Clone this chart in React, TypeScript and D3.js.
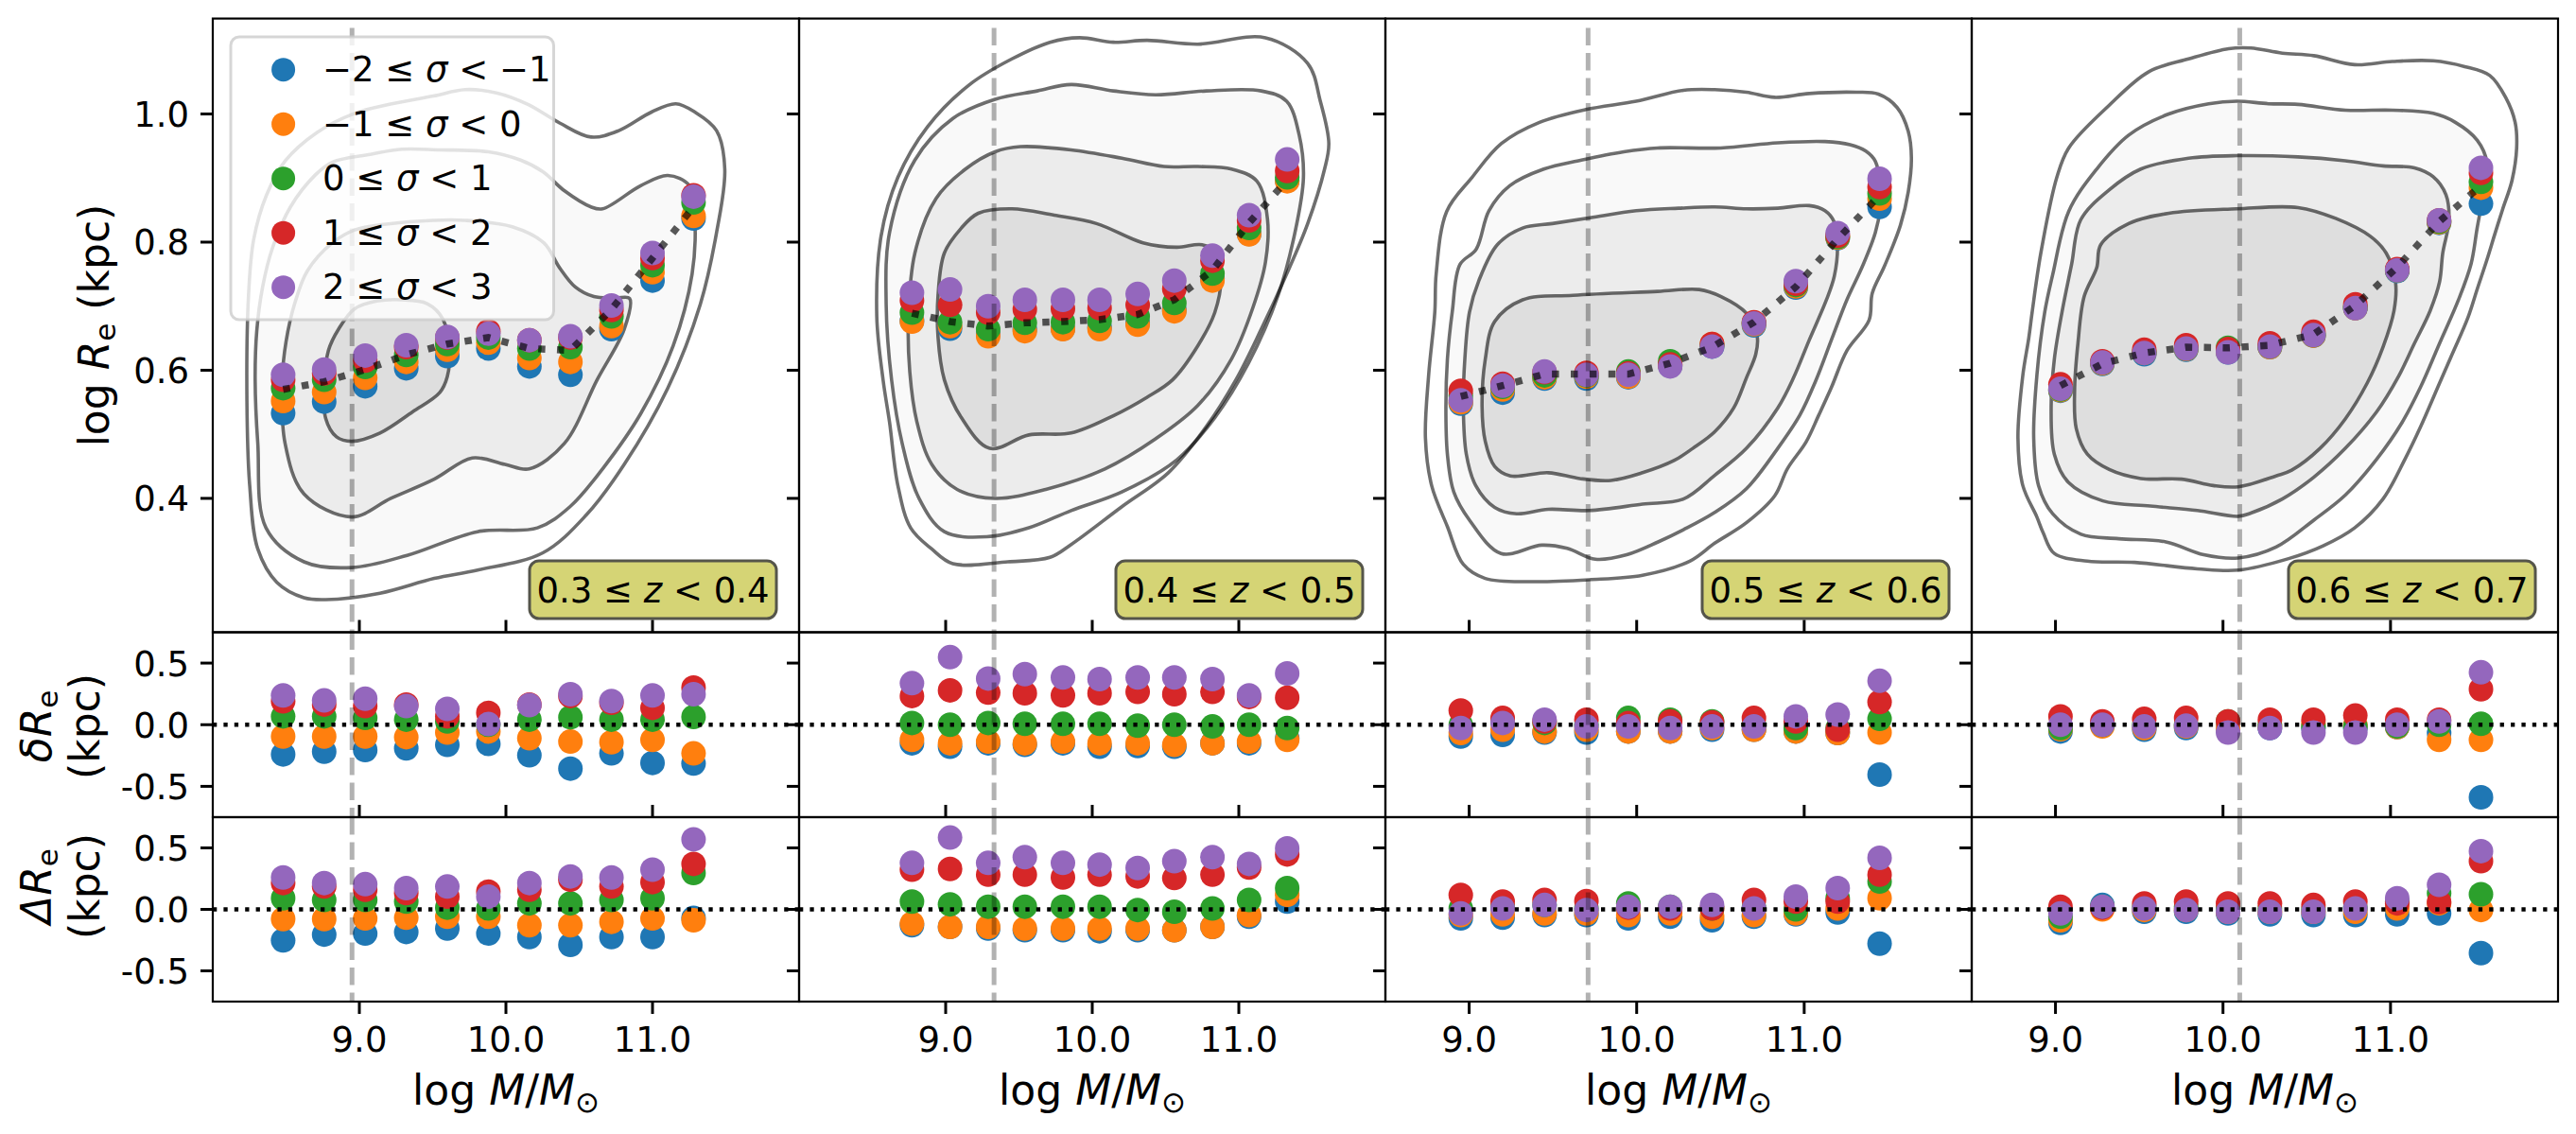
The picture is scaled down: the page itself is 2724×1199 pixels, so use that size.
import React from "react";
import * as d3 from "d3";

type Pt = [number, number];

const W = 2724;
const H = 1199;
const FONT = "'DejaVu Sans', 'Liberation Sans', sans-serif";

// ---------- categories / labels ----------
const SERIES_COLORS = ["#1f77b4", "#ff7f0e", "#2ca02c", "#d62728", "#9467bd"];
const SIGMA_BINS: [string, string][] = [["−2", "−1"], ["−1", "0"], ["0", "1"], ["1", "2"], ["2", "3"]];
const Z_BINS: [string, string][] = [["0.3", "0.4"], ["0.4", "0.5"], ["0.5", "0.6"], ["0.6", "0.7"]];
const MASS_CUT = [8.95, 9.33, 9.71, 10.1];
const X_DOMAINS: [number, number][] = [[8, 12], [8, 12], [8.5, 12], [8.5, 12]];
const X_TICKS = [9, 10, 11];
const Y_TICKS_SIZE = [0.4, 0.6, 0.8, 1.0];
const Y_TICKS_RES = [-0.5, 0, 0.5];
const Y_DOMAIN_SIZE: [number, number] = [0.191, 1.149];
const Y_DOMAIN_RES: [number, number] = [-0.75, 0.75];

// ---------- mass bin centres ----------
const mass_z03 = [8.48, 8.76, 9.04, 9.32, 9.6, 9.88, 10.16, 10.44, 10.72, 11.0, 11.28];
const mass_z04 = [8.77, 9.03, 9.29, 9.54, 9.8, 10.05, 10.31, 10.56, 10.82, 11.07, 11.33];
const mass_z05 = [8.95, 9.2, 9.45, 9.7, 9.95, 10.2, 10.45, 10.7, 10.95, 11.2, 11.45];
const mass_z06 = [9.03, 9.28, 9.53, 9.78, 10.03, 10.28, 10.54, 10.79, 11.04, 11.29, 11.54];

// ---------- log Re per sigma bin (blue, orange, green, red, purple) ----------
const re_z03 = [
  [0.533, 0.551, 0.575, 0.603, 0.622, 0.634, 0.606, 0.593, 0.664, 0.74, 0.837],
  [0.552, 0.566, 0.588, 0.613, 0.632, 0.643, 0.619, 0.613, 0.669, 0.753, 0.841],
  [0.572, 0.585, 0.605, 0.624, 0.641, 0.651, 0.634, 0.636, 0.684, 0.764, 0.862],
  [0.585, 0.595, 0.615, 0.636, 0.651, 0.661, 0.647, 0.651, 0.694, 0.775, 0.873],
  [0.593, 0.601, 0.623, 0.639, 0.652, 0.657, 0.647, 0.653, 0.701, 0.783, 0.871],
];
const re_z04 = [
  [0.677, 0.665, 0.657, 0.664, 0.665, 0.667, 0.674, 0.694, 0.743, 0.813, 0.896],
  [0.676, 0.669, 0.653, 0.661, 0.664, 0.664, 0.671, 0.692, 0.74, 0.812, 0.895],
  [0.69, 0.675, 0.664, 0.674, 0.675, 0.677, 0.684, 0.705, 0.751, 0.822, 0.901],
  [0.709, 0.702, 0.69, 0.695, 0.696, 0.697, 0.702, 0.727, 0.771, 0.834, 0.911],
  [0.721, 0.726, 0.7, 0.71, 0.71, 0.71, 0.719, 0.74, 0.779, 0.842, 0.929],
];
const re_z05 = [
  [0.548, 0.565, 0.587, 0.587, 0.589, 0.607, 0.637, 0.67, 0.729, 0.806, 0.855],
  [0.55, 0.57, 0.589, 0.59, 0.59, 0.608, 0.641, 0.672, 0.731, 0.807, 0.868],
  [0.56, 0.574, 0.592, 0.592, 0.598, 0.614, 0.639, 0.674, 0.733, 0.808, 0.876],
  [0.568, 0.579, 0.597, 0.596, 0.595, 0.609, 0.641, 0.675, 0.735, 0.81, 0.886],
  [0.553, 0.576, 0.598, 0.593, 0.593, 0.606, 0.637, 0.673, 0.739, 0.814, 0.899],
];
const re_z06 = [
  [0.568, 0.61, 0.625, 0.632, 0.628, 0.636, 0.654, 0.697, 0.755, 0.83, 0.86],
  [0.569, 0.611, 0.627, 0.633, 0.629, 0.636, 0.654, 0.697, 0.756, 0.831, 0.885],
  [0.57, 0.612, 0.628, 0.634, 0.635, 0.637, 0.655, 0.698, 0.756, 0.832, 0.894],
  [0.578, 0.614, 0.632, 0.639, 0.633, 0.642, 0.66, 0.703, 0.758, 0.834, 0.908],
  [0.571, 0.612, 0.627, 0.634, 0.628, 0.637, 0.655, 0.697, 0.756, 0.834, 0.916],
];

// ---------- overall median relation ----------
const med_z03 = [0.57, 0.582, 0.601, 0.624, 0.641, 0.651, 0.634, 0.631, 0.695, 0.775, 0.855];
const med_z04 = [0.689, 0.676, 0.669, 0.674, 0.676, 0.679, 0.687, 0.71, 0.756, 0.83, 0.897];
const med_z05 = [0.559, 0.576, 0.594, 0.594, 0.594, 0.611, 0.636, 0.675, 0.73, 0.805, 0.873];
const med_z06 = [0.576, 0.61, 0.627, 0.636, 0.635, 0.639, 0.656, 0.701, 0.761, 0.832, 0.888];

// ---------- delta Re ----------
const dre_z03 = [
  [-0.241, -0.219, -0.205, -0.192, -0.164, -0.156, -0.247, -0.356, -0.233, -0.31, -0.315],
  [-0.096, -0.096, -0.096, -0.101, -0.063, -0.055, -0.11, -0.137, -0.142, -0.123, -0.233],
  [0.068, 0.068, 0.055, 0.041, 0.027, 0.0, 0.041, 0.06, 0.041, 0.041, 0.063],
  [0.19, 0.164, 0.151, 0.164, 0.068, 0.096, 0.164, 0.233, 0.178, 0.137, 0.301],
  [0.238, 0.197, 0.211, 0.151, 0.129, 0.005, 0.159, 0.247, 0.192, 0.238, 0.247],
];
const dre_z04 = [
  [-0.151, -0.178, -0.151, -0.164, -0.151, -0.178, -0.173, -0.178, -0.151, -0.151, -0.11],
  [-0.123, -0.151, -0.137, -0.151, -0.137, -0.151, -0.151, -0.164, -0.151, -0.137, -0.123],
  [0.014, 0.0, 0.014, 0.008, 0.008, 0.008, -0.008, 0.0, -0.014, 0.0, -0.027],
  [0.233, 0.279, 0.26, 0.255, 0.238, 0.255, 0.266, 0.247, 0.266, 0.225, 0.219],
  [0.337, 0.548, 0.375, 0.411, 0.384, 0.37, 0.384, 0.384, 0.37, 0.238, 0.416],
];
const dre_z05 = [
  [-0.096, -0.082, -0.063, -0.063, -0.055, -0.055, -0.041, -0.041, -0.055, -0.068, -0.405],
  [-0.068, -0.041, -0.055, -0.041, -0.055, -0.055, -0.027, -0.041, -0.055, -0.068, -0.063],
  [0.0, 0.027, 0.014, 0.0, 0.055, 0.041, 0.027, 0.0, -0.027, -0.027, 0.047],
  [0.115, 0.055, 0.027, 0.041, 0.014, 0.027, 0.019, 0.055, 0.027, -0.041, 0.184],
  [-0.027, 0.014, 0.041, -0.014, -0.014, -0.027, -0.014, -0.014, 0.068, 0.082, 0.356],
];
const dre_z06 = [
  [-0.055, 0.014, -0.041, -0.027, -0.041, -0.027, -0.027, -0.027, -0.019, -0.068, -0.589],
  [-0.036, -0.014, -0.027, -0.014, -0.027, -0.014, 0.008, 0.0, -0.019, -0.123, -0.123],
  [-0.027, 0.0, 0.0, 0.0, 0.027, 0.0, -0.014, -0.014, -0.014, 0.0, 0.008],
  [0.068, 0.027, 0.047, 0.055, 0.027, 0.041, 0.041, 0.074, 0.041, 0.041, 0.288],
  [0.0, 0.0, -0.014, -0.008, -0.063, -0.027, -0.063, -0.063, 0.0, 0.027, 0.425],
];

// ---------- Delta Re ----------
const bigdre_z03 = [
  [-0.252, -0.205, -0.197, -0.184, -0.156, -0.197, -0.225, -0.288, -0.225, -0.225, -0.07],
  [-0.079, -0.079, -0.074, -0.068, -0.06, -0.06, -0.129, -0.129, -0.101, -0.074, -0.088],
  [0.09, 0.077, 0.077, 0.063, 0.014, 0.008, 0.049, 0.049, 0.077, 0.09, 0.296],
  [0.214, 0.186, 0.159, 0.132, 0.104, 0.145, 0.159, 0.241, 0.186, 0.222, 0.37],
  [0.26, 0.214, 0.205, 0.173, 0.186, 0.104, 0.214, 0.268, 0.26, 0.323, 0.57],
];
const bigdre_z04 = [
  [-0.129, -0.142, -0.156, -0.17, -0.17, -0.178, -0.17, -0.17, -0.142, -0.06, 0.063],
  [-0.115, -0.142, -0.142, -0.156, -0.156, -0.156, -0.156, -0.17, -0.142, -0.047, 0.118],
  [0.063, 0.041, 0.022, 0.022, 0.022, 0.022, -0.005, -0.019, 0.008, 0.077, 0.173],
  [0.323, 0.329, 0.282, 0.282, 0.26, 0.282, 0.268, 0.255, 0.282, 0.34, 0.447],
  [0.378, 0.584, 0.378, 0.425, 0.378, 0.364, 0.337, 0.392, 0.425, 0.37, 0.496],
];
const bigdre_z05 = [
  [-0.074, -0.068, -0.047, -0.047, -0.074, -0.06, -0.088, -0.06, -0.041, -0.025, -0.279],
  [-0.047, -0.041, -0.033, -0.033, -0.047, -0.033, -0.06, -0.047, -0.033, 0.008, 0.09],
  [0.008, 0.022, 0.036, 0.008, 0.049, 0.022, 0.008, 0.014, 0.0, 0.09, 0.227],
  [0.118, 0.063, 0.077, 0.068, 0.014, 0.008, 0.008, 0.077, 0.063, 0.063, 0.282],
  [-0.033, 0.008, 0.036, -0.005, 0.022, 0.022, 0.036, 0.008, 0.104, 0.173, 0.419],
];
const bigdre_z06 = [
  [-0.11, 0.036, -0.019, -0.019, -0.033, -0.041, -0.047, -0.047, -0.041, -0.033, -0.356],
  [-0.088, 0.0, -0.005, -0.005, -0.019, -0.019, -0.019, -0.019, 0.008, 0.049, -0.005],
  [-0.06, 0.022, 0.022, 0.022, 0.008, 0.008, 0.003, 0.014, 0.063, 0.131, 0.123],
  [0.022, 0.014, 0.049, 0.063, 0.049, 0.049, 0.036, 0.063, 0.049, 0.06, 0.392],
  [-0.033, 0.022, 0.008, -0.005, -0.019, -0.019, -0.019, 0.008, 0.09, 0.2, 0.474],
];

// ---------- density contours (innermost first) ----------
const cont_z03: Pt[][] = [
  [[8.763,0.585],[8.789,0.631],[8.86,0.665],[8.968,0.696],[9.118,0.708],[9.29,0.71],[9.463,0.704],[9.57,0.68],[9.615,0.63],[9.6,0.59],[9.548,0.565],[9.363,0.535],[9.141,0.502],[8.948,0.489],[8.844,0.496],[8.77,0.525]],
  [[8.474,0.585],[8.5,0.645],[8.56,0.705],[8.645,0.755],[8.817,0.799],[8.968,0.819],[9.183,0.828],[9.505,0.834],[9.721,0.834],[10.043,0.824],[10.258,0.799],[10.366,0.76],[10.473,0.73],[10.6,0.715],[10.75,0.713],[10.844,0.712],[10.807,0.664],[10.622,0.585],[10.4,0.486],[10.159,0.446],[9.993,0.453],[9.77,0.463],[9.511,0.43],[9.215,0.4],[8.948,0.371],[8.622,0.407],[8.493,0.486]],
  [[8.289,0.585],[8.3,0.661],[8.34,0.73],[8.406,0.79],[8.53,0.855],[8.7,0.905],[8.817,0.925],[9.075,0.937],[9.29,0.945],[9.548,0.944],[9.881,0.941],[10.1,0.928],[10.252,0.91],[10.4,0.88],[10.58,0.855],[10.659,0.852],[10.919,0.888],[11.104,0.904],[11.252,0.888],[11.289,0.835],[11.27,0.75],[11.141,0.638],[10.919,0.532],[10.659,0.446],[10.437,0.387],[10.215,0.354],[9.807,0.348],[9.326,0.311],[8.948,0.292],[8.622,0.301],[8.363,0.354],[8.307,0.486]],
  [[8.233,0.552],[8.244,0.717],[8.279,0.804],[8.366,0.873],[8.495,0.927],[8.71,0.971],[8.968,1.001],[9.205,1.015],[9.505,1.028],[9.721,1.038],[9.935,1.033],[10.15,1.015],[10.366,0.986],[10.581,0.964],[10.77,0.974],[10.993,1.003],[11.159,1.016],[11.289,1.003],[11.437,0.974],[11.493,0.914],[11.437,0.815],[11.326,0.703],[11.104,0.572],[10.807,0.453],[10.548,0.374],[10.252,0.315],[9.807,0.288],[9.511,0.275],[9.141,0.252],[8.77,0.242],[8.622,0.245],[8.437,0.269],[8.307,0.321],[8.252,0.42]],
];
const cont_z04: Pt[][] = [
  [[9.107,0.822],[8.991,0.783],[8.948,0.717],[8.948,0.651],[8.991,0.585],[9.107,0.526],[9.3,0.478],[9.568,0.499],[9.856,0.502],[10.144,0.529],[10.375,0.558],[10.548,0.585],[10.72,0.638],[10.836,0.69],[10.879,0.743],[10.85,0.783],[10.749,0.796],[10.576,0.792],[10.346,0.799],[10.029,0.829],[9.741,0.842],[9.452,0.852],[9.222,0.845]],
  [[8.79,0.783],[8.934,0.868],[9.135,0.914],[9.337,0.941],[9.51,0.949],[9.856,0.944],[10.202,0.931],[10.49,0.918],[10.72,0.918],[10.951,0.914],[11.124,0.895],[11.196,0.835],[11.182,0.769],[11.095,0.697],[10.951,0.618],[10.72,0.545],[10.432,0.493],[10.086,0.446],[9.683,0.414],[9.337,0.4],[9.078,0.414],[8.905,0.453],[8.804,0.519],[8.755,0.598],[8.746,0.684]],
  [[8.617,0.815],[8.79,0.928],[9.049,0.993],[9.337,1.023],[9.625,1.036],[9.856,1.046],[10.144,1.036],[10.432,1.03],[10.778,1.036],[11.153,1.036],[11.326,1.02],[11.412,0.967],[11.441,0.901],[11.383,0.815],[11.268,0.717],[11.066,0.611],[10.836,0.526],[10.576,0.46],[10.202,0.41],[9.856,0.381],[9.568,0.354],[9.28,0.34],[8.991,0.348],[8.818,0.4],[8.703,0.486],[8.631,0.585],[8.594,0.703]],
  [[8.559,0.809],[8.674,0.901],[8.876,0.98],[9.164,1.046],[9.452,1.086],[9.712,1.112],[9.914,1.119],[10.144,1.112],[10.375,1.115],[10.72,1.109],[11.182,1.119],[11.47,1.079],[11.556,1.02],[11.614,0.954],[11.585,0.914],[11.47,0.829],[11.326,0.75],[11.153,0.664],[10.98,0.585],[10.778,0.512],[10.519,0.44],[10.202,0.387],[9.856,0.328],[9.712,0.308],[9.424,0.301],[9.049,0.298],[8.905,0.321],[8.761,0.354],[8.674,0.42],[8.617,0.519],[8.573,0.585],[8.53,0.684]],
];
const cont_z05: Pt[][] = [
  [[9.077,0.543],[9.096,0.617],[9.152,0.676],[9.319,0.71],[9.62,0.717],[10.124,0.723],[10.373,0.726],[10.504,0.715],[10.655,0.689],[10.72,0.652],[10.711,0.625],[10.655,0.588],[10.579,0.541],[10.466,0.504],[10.335,0.478],[10.223,0.459],[10.035,0.44],[9.847,0.428],[9.659,0.431],[9.472,0.44],[9.246,0.435],[9.152,0.45],[9.096,0.489]],
  [[8.965,0.543],[8.974,0.617],[9.002,0.691],[9.058,0.74],[9.168,0.796],[9.319,0.822],[9.496,0.829],[9.721,0.838],[9.997,0.849],[10.25,0.853],[10.466,0.855],[10.655,0.852],[10.842,0.853],[11.03,0.857],[11.124,0.849],[11.18,0.831],[11.199,0.794],[11.18,0.747],[11.133,0.71],[11.03,0.647],[10.936,0.588],[10.842,0.541],[10.655,0.478],[10.466,0.436],[10.279,0.399],[10.035,0.391],[9.715,0.381],[9.472,0.383],[9.283,0.376],[9.152,0.386],[9.039,0.42],[8.983,0.469]],
  [[8.861,0.543],[8.87,0.617],[8.899,0.691],[8.945,0.765],[9.042,0.789],[9.118,0.849],[9.242,0.888],[9.445,0.914],[9.67,0.928],[9.923,0.941],[10.124,0.947],[10.501,0.947],[10.842,0.955],[11.124,0.957],[11.274,0.952],[11.368,0.942],[11.425,0.926],[11.453,0.889],[11.453,0.852],[11.425,0.815],[11.349,0.763],[11.255,0.71],[11.162,0.647],[11.068,0.583],[10.974,0.53],[10.842,0.478],[10.655,0.415],[10.466,0.378],[10.279,0.351],[10.128,0.332],[9.941,0.312],[9.753,0.305],[9.585,0.322],[9.434,0.327],[9.19,0.314],[9.002,0.366],[8.908,0.41],[8.87,0.469]],
  [[8.739,0.494],[8.758,0.592],[8.795,0.691],[8.803,0.75],[8.866,0.848],[9.017,0.901],[9.193,0.954],[9.42,0.987],[9.696,1.007],[9.997,1.02],[10.279,1.037],[10.466,1.038],[10.655,1.034],[10.824,1.026],[11.03,1.032],[11.312,1.034],[11.443,1.031],[11.555,1.01],[11.621,0.973],[11.64,0.931],[11.621,0.878],[11.574,0.826],[11.48,0.763],[11.406,0.72],[11.387,0.678],[11.256,0.631],[11.162,0.573],[11.087,0.53],[11.011,0.488],[10.899,0.446],[10.824,0.404],[10.655,0.362],[10.466,0.33],[10.317,0.302],[10.035,0.28],[9.715,0.273],[9.377,0.27],[9.096,0.275],[8.965,0.297],[8.87,0.356],[8.776,0.42]],
];
const cont_z06: Pt[][] = [
  [[9.114,0.568],[9.134,0.642],[9.171,0.715],[9.246,0.76],[9.27,0.796],[9.437,0.829],[9.676,0.845],[10.082,0.852],[10.448,0.854],[10.673,0.837],[10.88,0.809],[10.974,0.783],[11.03,0.738],[11.021,0.693],[10.955,0.636],[10.861,0.58],[10.73,0.524],[10.579,0.478],[10.41,0.444],[10.317,0.435],[10.091,0.418],[9.941,0.42],[9.753,0.43],[9.509,0.431],[9.321,0.445],[9.19,0.469],[9.124,0.509]],
  [[8.974,0.543],[8.993,0.617],[9.039,0.691],[9.096,0.765],[9.151,0.835],[9.318,0.881],[9.509,0.914],[9.795,0.931],[10.082,0.935],[10.448,0.933],[10.73,0.927],[10.955,0.919],[11.143,0.916],[11.255,0.902],[11.331,0.874],[11.349,0.834],[11.312,0.783],[11.293,0.738],[11.237,0.693],[11.143,0.642],[11.049,0.591],[10.917,0.535],[10.73,0.478],[10.542,0.433],[10.354,0.399],[10.166,0.377],[10.091,0.372],[9.847,0.381],[9.565,0.388],[9.283,0.396],[9.077,0.425],[8.993,0.469]],
  [[8.87,0.494],[8.889,0.592],[8.936,0.691],[8.984,0.75],[9.079,0.848],[9.246,0.914],[9.437,0.967],[9.676,1.0],[9.914,1.016],[10.082,1.02],[10.272,1.016],[10.448,1.015],[10.73,1.006],[11.011,1.006],[11.255,1.001],[11.387,0.987],[11.518,0.959],[11.575,0.925],[11.556,0.879],[11.518,0.823],[11.481,0.766],[11.406,0.71],[11.293,0.642],[11.18,0.574],[11.068,0.518],[10.917,0.461],[10.73,0.405],[10.542,0.366],[10.317,0.324],[10.091,0.307],[9.885,0.312],[9.659,0.332],[9.377,0.337],[9.152,0.344],[8.983,0.376],[8.899,0.42]],
  [[8.776,0.494],[8.805,0.592],[8.841,0.651],[8.861,0.691],[8.912,0.782],[9.008,0.901],[9.079,0.947],[9.318,1.013],[9.557,1.066],[9.795,1.086],[10.034,1.102],[10.166,1.103],[10.354,1.095],[10.542,1.091],[10.786,1.077],[11.011,1.082],[11.255,1.083],[11.443,1.074],[11.593,1.06],[11.687,1.026],[11.744,0.987],[11.753,0.947],[11.725,0.896],[11.669,0.851],[11.622,0.812],[11.575,0.772],[11.518,0.727],[11.462,0.682],[11.368,0.625],[11.293,0.58],[11.18,0.512],[11.086,0.461],[10.955,0.399],[10.786,0.354],[10.598,0.326],[10.392,0.306],[10.091,0.288],[9.847,0.29],[9.472,0.3],[9.19,0.302],[8.993,0.314],[8.927,0.346],[8.889,0.371],[8.805,0.42]],
];

const PANELS = [
  { mass: mass_z03, re: re_z03, med: med_z03, dre: dre_z03, bigdre: bigdre_z03, cont: cont_z03 },
  { mass: mass_z04, re: re_z04, med: med_z04, dre: dre_z04, bigdre: bigdre_z04, cont: cont_z04 },
  { mass: mass_z05, re: re_z05, med: med_z05, dre: dre_z05, bigdre: bigdre_z05, cont: cont_z05 },
  { mass: mass_z06, re: re_z06, med: med_z06, dre: dre_z06, bigdre: bigdre_z06, cont: cont_z06 },
];

// ---------- layout ----------
const PANEL_LEFT = [225, 845, 1465, 2085];
const PANEL_W = 620;
const ROW_Y = [19.6, 668.5, 864, 1059];
const FILL_ALPHA = [0.06, 0.05, 0.022, 0.0];
const TICK = 13;
const TICK_FS = 37;
const LABEL_FS = 44;

function Panel({ i }: { i: number }) {
  const p = PANELS[i];
  const L = PANEL_LEFT[i];
  const R = L + PANEL_W;
  const x = d3.scaleLinear().domain(X_DOMAINS[i]).range([L, R]);
  const yTop = d3.scaleLinear().domain(Y_DOMAIN_SIZE).range([ROW_Y[1], ROW_Y[0]]);
  const yMid = d3.scaleLinear().domain(Y_DOMAIN_RES).range([ROW_Y[2], ROW_Y[1]]);
  const yBot = d3.scaleLinear().domain(Y_DOMAIN_RES).range([ROW_Y[3], ROW_Y[2]]);
  const contourLine = d3
    .line<Pt>()
    .x((d) => x(d[0]))
    .y((d) => yTop(d[1]))
    .curve(d3.curveCatmullRomClosed.alpha(0.5));
  const medLine = d3
    .line<number>()
    .x((_, j) => x(p.mass[j]))
    .y((d) => yTop(d));
  const clipId = (r: number) => `clip-${i}-${r}`;
  const rows = [
    { y: yTop, top: ROW_Y[0], bot: ROW_Y[1], ticks: Y_TICKS_SIZE },
    { y: yMid, top: ROW_Y[1], bot: ROW_Y[2], ticks: Y_TICKS_RES },
    { y: yBot, top: ROW_Y[2], bot: ROW_Y[3], ticks: Y_TICKS_RES },
  ];
  const resData = [p.dre, p.bigdre];
  const boxR = R - 24;
  const boxW = 261;
  const boxH = 61;
  const boxB = 654;

  return (
    <g>
      <defs>
        {rows.map((r, k) => (
          <clipPath id={clipId(k)} key={k}>
            <rect x={L} y={r.top} width={PANEL_W} height={r.bot - r.top} />
          </clipPath>
        ))}
      </defs>

      {/* ---- top row ---- */}
      <g clipPath={`url(#${clipId(0)})`}>
        {p.cont
          .slice()
          .reverse()
          .map((c, k) => (
            <path key={"f" + k} d={contourLine(c) || ""} fill="#000" fillOpacity={FILL_ALPHA[3 - k]} stroke="none" />
          ))}
        {p.cont.map((c, k) => (
          <path key={"c" + k} d={contourLine(c) || ""} fill="none" stroke="#000" strokeOpacity={0.57} strokeWidth={3.6} />
        ))}
        {p.re.map((series, s) =>
          series.map((v, j) => (
            <circle key={s + "-" + j} cx={x(p.mass[j])} cy={yTop(v)} r={13} fill={SERIES_COLORS[s]} />
          ))
        )}
        <line x1={x(MASS_CUT[i])} x2={x(MASS_CUT[i])} y1={ROW_Y[0] + 10} y2={ROW_Y[1]} stroke="#000" strokeOpacity={0.3} strokeWidth={5} strokeDasharray="18.5 8" />
        <path d={medLine(p.med) || ""} fill="none" stroke="#000" strokeOpacity={0.65} strokeWidth={7.5} strokeDasharray="7.5 12.4" />
      </g>
      <rect x={boxR - boxW} y={boxB - boxH} width={boxW} height={boxH} rx={10} fill="#d5d475" stroke="#55554a" strokeWidth={3} />
      <text x={boxR - boxW / 2} y={boxB - boxH / 2 + 13} textAnchor="middle" fontSize={TICK_FS} fill="#000">
        {Z_BINS[i][0]} ≤ <tspan fontStyle="italic">z</tspan> &lt; {Z_BINS[i][1]}
      </text>

      {/* ---- residual rows ---- */}
      {[1, 2].map((rk) => {
        const r = rows[rk];
        const data = resData[rk - 1];
        return (
          <g key={rk} clipPath={`url(#${clipId(rk)})`}>
            {data.map((series, s) =>
              series.map((v, j) => (
                <circle key={s + "-" + j} cx={x(p.mass[j])} cy={r.y(v)} r={13} fill={SERIES_COLORS[s]} />
              ))
            )}
            <line x1={x(MASS_CUT[i])} x2={x(MASS_CUT[i])} y1={r.top} y2={r.bot} stroke="#000" strokeOpacity={0.3} strokeWidth={5} strokeDasharray="18.5 8" />
            <line x1={L} x2={R} y1={r.y(0)} y2={r.y(0)} stroke="#000" strokeWidth={4.3} strokeDasharray="4.3 7.1" />
          </g>
        );
      })}

      {/* ---- axes ---- */}
      {rows.map((r, k) => (
        <g key={"ax" + k}>
          <rect x={L} y={r.top} width={PANEL_W} height={r.bot - r.top} fill="none" stroke="#000" strokeWidth={2.2} />
          {r.ticks.map((t) => (
            <g key={t}>
              <line x1={L - TICK} x2={L} y1={r.y(t)} y2={r.y(t)} stroke="#000" strokeWidth={3} />
              {i === 0 && (
                <text x={L - 25} y={r.y(t) + 13.5} textAnchor="end" fontSize={TICK_FS} fill="#000">
                  {t.toFixed(1)}
                </text>
              )}
            </g>
          ))}
          {X_TICKS.map((t) => (
            <line
              key={"xt" + t}
              x1={x(t)}
              x2={x(t)}
              y1={k === 2 ? r.bot : r.bot - TICK}
              y2={k === 2 ? r.bot + TICK : r.bot}
              stroke="#000"
              strokeWidth={3}
            />
          ))}
        </g>
      ))}
      {X_TICKS.map((t) => (
        <text key={"xl" + t} x={x(t)} y={1112} textAnchor="middle" fontSize={TICK_FS} fill="#000">
          {t.toFixed(1)}
        </text>
      ))}
      <text x={(L + R) / 2} y={1168} textAnchor="middle" fontSize={LABEL_FS} fill="#000">
        log <tspan fontStyle="italic">M</tspan>/<tspan fontStyle="italic">M</tspan>
        <tspan fontSize={31} dy={8}>⊙</tspan>
      </text>
    </g>
  );
}

function Legend() {
  const x0 = 244;
  const y0 = 39;
  return (
    <g>
      <rect x={x0} y={y0} width={341.5} height={299} rx={9} fill="#fff" fillOpacity={0.8} stroke="#cccccc" strokeOpacity={0.8} strokeWidth={3} />
      {SIGMA_BINS.map((b, k) => {
        const cy = 73.7 + k * 57.5;
        return (
          <g key={k}>
            <circle cx={299.6} cy={cy} r={12.5} fill={SERIES_COLORS[k]} />
            <text x={341} y={cy + 12.5} fontSize={TICK_FS} fill="#000">
              {b[0]} ≤ <tspan fontStyle="italic">σ</tspan> &lt; {b[1]}
            </text>
          </g>
        );
      })}
    </g>
  );
}

function YLabels() {
  return (
    <g fontSize={LABEL_FS} fill="#000">
      <text transform={`translate(115,${(ROW_Y[0] + ROW_Y[1]) / 2}) rotate(-90)`} textAnchor="middle">
        log <tspan fontStyle="italic">R</tspan>
        <tspan fontSize={31} dy={7}>e</tspan>
        <tspan dy={-7}> (kpc)</tspan>
      </text>
      <g transform={`translate(0,768) rotate(-90)`}>
        <text x={0} y={54} textAnchor="middle">
          <tspan fontStyle="italic">δR</tspan>
          <tspan fontSize={31} dy={7}>e</tspan>
        </text>
        <text x={0} y={105} textAnchor="middle">(kpc)</text>
      </g>
      <g transform={`translate(0,937) rotate(-90)`}>
        <text x={0} y={54} textAnchor="middle">
          <tspan fontStyle="italic">ΔR</tspan>
          <tspan fontSize={31} dy={7}>e</tspan>
        </text>
        <text x={0} y={105} textAnchor="middle">(kpc)</text>
      </g>
    </g>
  );
}

export default function App() {
  React.useEffect(() => {
    document.body.style.margin = "0";
    document.body.style.overflow = "hidden";
  }, []);
  return (
    <svg width={W} height={H} viewBox={`0 0 ${W} ${H}`} style={{ position: "absolute", left: 0, top: 0, background: "#fff" }} fontFamily={FONT}>
      <rect x={0} y={0} width={W} height={H} fill="#fff" />
      {PANELS.map((_, i) => (
        <Panel key={i} i={i} />
      ))}
      <Legend />
      <YLabels />
    </svg>
  );
}
